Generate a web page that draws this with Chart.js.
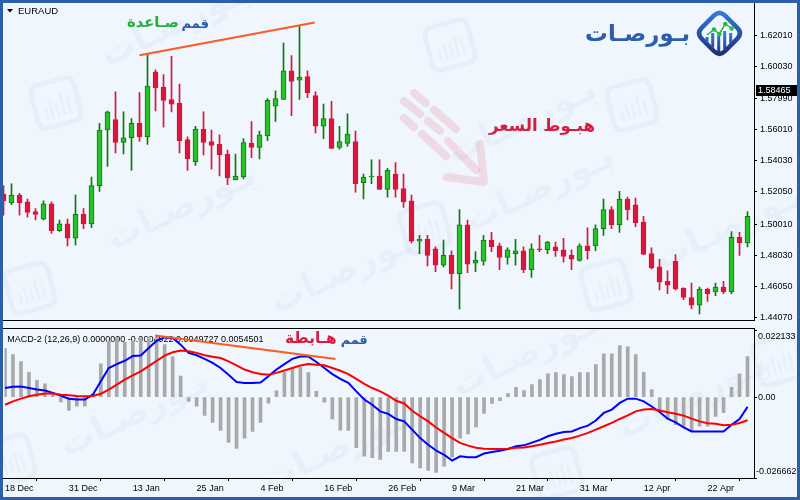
<!DOCTYPE html>
<html><head><meta charset="utf-8">
<script src="https://cdn.jsdelivr.net/npm/chart.js@4.4.1/dist/chart.umd.min.js"></script>
<style>
html,body{margin:0;padding:0;background:#2b5fab;width:800px;height:500px;overflow:hidden;}
#wrap{position:relative;width:800px;height:500px;}
#c1{position:absolute;left:3px;top:3px;}
#c2{position:absolute;left:3px;top:328px;}
</style></head><body><div id="wrap">
<canvas id="c1" width="794" height="325"></canvas>
<canvas id="c2" width="794" height="169"></canvas>
</div>
<script>
// ---------------- DATA ----------------
const symbol = 'EURAUD';
const dateLabels = ['18 Dec','31 Dec','13 Jan','25 Jan','4 Feb','16 Feb','26 Feb','9 Mar','21 Mar','31 Mar','12 Apr','22 Apr'];
const opens = [1.5191,1.5136,1.5185,1.5142,1.5081,1.5033,1.5130,1.4960,1.5002,1.4911,
1.5063,1.5002,1.5245,1.5598,1.5664,1.5519,1.5549,1.5640,1.5555,1.5968,
1.5871,1.5792,1.5768,1.5537,1.5397,1.5604,1.5525,1.5507,1.5446,1.5282,
1.5300,1.5513,1.5488,1.5561,1.5750,1.5792,1.5974,1.5914,1.5938,1.5816,
1.5622,1.5671,1.5488,1.5513,1.5525,1.5264,1.5300,1.5306,1.5221,1.5318,
1.5227,1.5148,1.4893,1.4905,1.4844,1.4741,1.4802,1.4686,1.4996,1.4753,
1.4765,1.4899,1.4863,1.4790,1.4814,1.4832,1.4711,1.4844,1.4838,1.4856,
1.4838,1.4802,1.4771,1.4863,1.4863,1.4972,1.5093,1.4996,1.5160,1.5124,
1.5014,1.4814,1.4729,1.4638,1.4765,1.4595,1.4535,1.4486,1.4589,1.4571,
1.4601,1.4571,1.4917,1.4881];
const highs = [1.5245,1.5257,1.5197,1.5160,1.5099,1.5148,1.5142,1.5027,1.5033,1.5185,
1.5099,1.5300,1.5640,1.5719,1.5841,1.5713,1.5671,1.5835,1.6078,1.5980,
1.5950,1.6065,1.5889,1.5555,1.5622,1.5713,1.5598,1.5567,1.5470,1.5446,
1.5543,1.5652,1.5592,1.5798,1.5847,1.6150,1.6071,1.6260,1.5974,1.5841,
1.5762,1.5780,1.5622,1.5701,1.5592,1.5318,1.5409,1.5409,1.5355,1.5391,
1.5318,1.5185,1.4929,1.4929,1.4856,1.4899,1.4832,1.5093,1.5027,1.4826,
1.4929,1.4948,1.4881,1.4850,1.4905,1.4856,1.4875,1.4929,1.4891,1.4887,
1.4911,1.4838,1.4875,1.4978,1.4996,1.5160,1.5112,1.5209,1.5172,1.5166,
1.5051,1.4850,1.4778,1.4705,1.4808,1.4597,1.4626,1.4601,1.4595,1.4626,
1.4638,1.4954,1.4948,1.5081];
const lows = [1.5057,1.5124,1.5057,1.5045,1.5027,1.5027,1.4942,1.4954,1.4863,1.4869,
1.4972,1.4978,1.5209,1.5367,1.5452,1.5446,1.5342,1.5525,1.5507,1.5719,
1.5616,1.5713,1.5452,1.5342,1.5373,1.5440,1.5349,1.5306,1.5251,1.5282,
1.5288,1.5422,1.5415,1.5531,1.5652,1.5792,1.5689,1.5792,1.5804,1.5579,
1.5543,1.5482,1.5476,1.5494,1.5203,1.5160,1.5257,1.5221,1.5172,1.5172,
1.5106,1.4881,1.4814,1.4735,1.4699,1.4729,1.4589,1.4462,1.4692,1.4699,
1.4741,1.4826,1.4711,1.4747,1.4741,1.4692,1.4662,1.4826,1.4814,1.4796,
1.4759,1.4711,1.4765,1.4778,1.4832,1.4929,1.4972,1.4948,1.5027,1.4984,
1.4808,1.4717,1.4583,1.4559,1.4583,1.4522,1.4462,1.4431,1.4510,1.4547,
1.4559,1.4559,1.4802,1.4856];
const closes = [1.5148,1.5185,1.5136,1.5075,1.5063,1.5130,1.4960,1.5002,1.4911,1.5063,
1.5002,1.5245,1.5598,1.5713,1.5519,1.5549,1.5640,1.5555,1.5877,1.5865,
1.5786,1.5762,1.5531,1.5415,1.5604,1.5519,1.5500,1.5440,1.5294,1.5306,
1.5519,1.5488,1.5567,1.5786,1.5798,1.5974,1.5907,1.5932,1.5835,1.5622,
1.5671,1.5482,1.5525,1.5573,1.5257,1.5300,1.5306,1.5221,1.5342,1.5221,
1.5142,1.4893,1.4905,1.4802,1.4741,1.4802,1.4686,1.4996,1.4747,1.4771,
1.4899,1.4856,1.4790,1.4838,1.4832,1.4711,1.4844,1.4838,1.4887,1.4832,
1.4796,1.4778,1.4863,1.4832,1.4972,1.5093,1.4996,1.5160,1.5093,1.5008,
1.4808,1.4723,1.4632,1.4613,1.4589,1.4535,1.4486,1.4589,1.4559,1.4601,
1.4571,1.4917,1.4881,1.5051];
const macdHist = [0.0160,0.0140,0.0117,0.0082,0.0055,0.0044,0.0014,-0.0016,-0.0044,-0.0030,
-0.0030,0.0012,0.0110,0.0184,0.0197,0.0181,0.0186,0.0195,0.0199,0.0197,
0.0173,0.0134,0.0069,-0.0014,-0.0030,-0.0060,-0.0083,-0.0110,-0.0149,-0.0169,
-0.0135,-0.0113,-0.0083,-0.0020,0.0021,0.0082,0.0096,0.0098,0.0081,0.0019,
-0.0017,-0.0072,-0.0109,-0.0110,-0.0167,-0.0195,-0.0200,-0.0205,-0.0179,-0.0179,
-0.0179,-0.0217,-0.0233,-0.0242,-0.0248,-0.0228,-0.0198,-0.0135,-0.0121,-0.0098,
-0.0054,-0.0021,-0.0012,0.0012,0.0032,0.0022,0.0041,0.0058,0.0077,0.0081,
0.0074,0.0068,0.0081,0.0081,0.0107,0.0143,0.0143,0.0170,0.0166,0.0140,
0.0082,0.0025,-0.0045,-0.0073,-0.0091,-0.0098,-0.0113,-0.0096,-0.0096,-0.0064,
-0.0051,0.0032,0.0077,0.0134];
const macdLine = [0.0030,0.0034,0.0035,0.0030,0.0025,0.0022,0.0014,0.0004,-0.0005,-0.0008,
-0.0008,0.0008,0.0052,0.0096,0.0109,0.0120,0.0136,0.0137,0.0162,0.0186,
0.0197,0.0195,0.0173,0.0146,0.0138,0.0126,0.0113,0.0096,0.0074,0.0050,
0.0047,0.0047,0.0048,0.0069,0.0091,0.0109,0.0126,0.0134,0.0134,0.0116,
0.0096,0.0076,0.0060,0.0047,0.0019,-0.0008,-0.0025,-0.0047,-0.0055,-0.0072,
-0.0080,-0.0107,-0.0135,-0.0157,-0.0176,-0.0190,-0.0209,-0.0195,-0.0198,-0.0198,
-0.0186,-0.0181,-0.0177,-0.0171,-0.0162,-0.0159,-0.0150,-0.0141,-0.0129,-0.0121,
-0.0115,-0.0113,-0.0102,-0.0094,-0.0077,-0.0052,-0.0041,-0.0019,-0.0005,-0.0005,
-0.0014,-0.0031,-0.0049,-0.0071,-0.0083,-0.0100,-0.0113,-0.0113,-0.0113,-0.0113,
-0.0113,-0.0091,-0.0072,-0.0032];
const signalLine = [-0.0025,-0.0014,-0.0005,0.0003,0.0008,0.0012,0.0012,0.0008,0.0006,0.0004,
0.0003,0.0004,0.0011,0.0025,0.0041,0.0058,0.0072,0.0085,0.0102,0.0120,
0.0137,0.0148,0.0154,0.0151,0.0146,0.0138,0.0133,0.0129,0.0118,0.0105,
0.0091,0.0082,0.0076,0.0074,0.0080,0.0088,0.0096,0.0104,0.0109,0.0107,
0.0105,0.0096,0.0087,0.0076,0.0060,0.0044,0.0030,0.0019,0.0005,-0.0012,
-0.0021,-0.0045,-0.0063,-0.0080,-0.0100,-0.0118,-0.0135,-0.0151,-0.0160,-0.0167,
-0.0170,-0.0171,-0.0171,-0.0170,-0.0167,-0.0166,-0.0162,-0.0157,-0.0151,-0.0146,
-0.0140,-0.0135,-0.0127,-0.0118,-0.0107,-0.0096,-0.0085,-0.0072,-0.0060,-0.0047,
-0.0041,-0.0039,-0.0044,-0.0050,-0.0055,-0.0061,-0.0071,-0.0080,-0.0086,-0.0088,
-0.0093,-0.0091,-0.0085,-0.0076];
const priceTicks = [1.62010,1.60030,1.57990,1.56010,1.54030,1.52050,1.50010,1.48030,1.46050,1.44070];
const macdTicks = [0.022133,0,-0.026662];
const macdTickLabels = ['0.022133','0.00','-0.026662'];
const currentPrice = 1.58465;
const macdLegend = 'MACD-2 (12,26,9) 0.0000000 -0.0004922 0.0049727 0.0054501';
// trend lines (bar index, value)
const trendTopX = [17.0, 38.9], trendTopY = [1.6072, 1.6280];
const trendMacdX = [18.8, 41.4], trendMacdY = [0.0203, 0.0126];

// ---------------- STYLE ----------------
const BG = '#eff6fd';
const BULL_FILL = '#24c524', BULL_LINE = '#0a7a0a', BEAR = '#dc143c';
const ORANGE = '#ff5a1f';
const FONT = 'Liberation Sans';
Chart.defaults.font.family = FONT;

const idx = opens.map((_, i) => i);
const up = idx.map(i => closes[i] >= opens[i]);
const XMIN = -0.0625, XMAX = XMIN + 751 / 8;

function fitText(ctx, txt, xRight, yBase, w, color) {
  ctx.font = 'bold 20px "DejaVu Sans"';
  const m = ctx.measureText(txt).width;
  ctx.font = 'bold ' + (20 * w / m).toFixed(2) + 'px "DejaVu Sans"';
  ctx.fillStyle = color; ctx.textAlign = 'right'; ctx.textBaseline = 'alphabetic';
  ctx.fillText(txt, xRight, yBase);
}
function rrect(ctx, x, y, w, h, r) {
  ctx.beginPath();
  ctx.moveTo(x + r, y); ctx.lineTo(x + w - r, y); ctx.quadraticCurveTo(x + w, y, x + w, y + r);
  ctx.lineTo(x + w, y + h - r); ctx.quadraticCurveTo(x + w, y + h, x + w - r, y + h);
  ctx.lineTo(x + r, y + h); ctx.quadraticCurveTo(x, y + h, x, y + h - r);
  ctx.lineTo(x, y + r); ctx.quadraticCurveTo(x, y, x + r, y); ctx.closePath();
}
function watermarks(ctx, texts, icons) {
  ctx.save();
  for (const [x, y] of texts) {
    ctx.save(); ctx.translate(x, y); ctx.rotate(-25 * Math.PI / 180);
    ctx.font = 'bold 20px "DejaVu Sans"';
    const m = ctx.measureText('بـورصـات').width;
    ctx.font = 'bold ' + (20 * 160 / m).toFixed(1) + 'px "DejaVu Sans"';
    ctx.fillStyle = 'rgba(43,95,171,0.04)'; ctx.textAlign = 'center'; ctx.textBaseline = 'middle';
    ctx.fillText('بـورصـات', 0, 0);
    ctx.restore();
  }
  for (const [x, y] of icons) {
    ctx.save(); ctx.translate(x, y); ctx.rotate(-15 * Math.PI / 180);
    ctx.strokeStyle = 'rgba(43,95,171,0.045)'; ctx.lineWidth = 5;
    rrect(ctx, -22, -22, 44, 44, 9); ctx.stroke();
    ctx.fillStyle = 'rgba(43,95,171,0.035)';
    [[-12, 2], [-6, -4], [0, -1], [6, -8], [12, -4]].forEach(([bx, by]) => ctx.fillRect(bx - 1.5, by, 3, 14 - by));
    ctx.restore();
  }
  ctx.restore();
}
function pinkArrow(ctx) {
  ctx.save();
  ctx.strokeStyle = 'rgba(220,20,60,0.12)'; ctx.lineWidth = 8; ctx.lineCap = 'round'; ctx.lineJoin = 'round';
  const segs = [[404, 101, 420, 114], [428, 121, 440, 131], [414, 93, 426, 103], [434, 110, 456, 129],
                [404, 118, 414, 127], [422, 134, 446, 156], [448, 141, 476, 170]];
  for (const s of segs) { ctx.beginPath(); ctx.moveTo(s[0], s[1]); ctx.lineTo(s[2], s[3]); ctx.stroke(); }
  ctx.beginPath(); ctx.moveTo(447, 177); ctx.lineTo(484, 182); ctx.lineTo(480, 144); ctx.stroke();
  ctx.restore();
}
function logo(ctx) {
  fitText(ctx, 'بـورصـات', 690, 41, 105, '#2c5ea9');
  ctx.save(); ctx.translate(719.5, 33.3); ctx.rotate(Math.PI / 4);
  const g = ctx.createLinearGradient(-17, -17, 17, 17);
  g.addColorStop(0, '#3a7fd8'); g.addColorStop(1, '#1b2a74');
  ctx.strokeStyle = g; ctx.lineWidth = 4.5; rrect(ctx, -16.5, -16.5, 33, 33, 8); ctx.stroke();
  ctx.restore();
  const bars = [[707, 37], [712.7, 33], [718.7, 35.5], [724.7, 31], [730.7, 33]];
  const gb = ctx.createLinearGradient(0, 30, 0, 54);
  gb.addColorStop(0, '#3d86e0'); gb.addColorStop(1, '#1d2f80');
  ctx.fillStyle = gb;
  for (const [bx, by] of bars) {
    const bot = 57.3 - Math.abs(bx - 719.5) - 3;
    ctx.fillRect(bx - 1.5, by, 3, Math.max(0, bot - by));
  }
  const pts = [[707, 35], [714, 29.5], [719.3, 34], [725.3, 24], [731.7, 28.5]];
  ctx.strokeStyle = '#2ab84a'; ctx.lineWidth = 1.5; ctx.beginPath();
  pts.forEach(([x, y], i) => i ? ctx.lineTo(x, y) : ctx.moveTo(x, y)); ctx.stroke();
  ctx.fillStyle = '#22c040';
  for (const [x, y] of pts.slice(1)) { ctx.beginPath(); ctx.arc(x, y, 2.3, 0, Math.PI * 2); ctx.fill(); }
}

// ---------------- PLUGINS ----------------
const panel1 = {
  id: 'panel1',
  beforeDraw(chart) {
    const ctx = chart.ctx;
    ctx.save(); ctx.fillStyle = BG; ctx.fillRect(0, 0, chart.width, chart.height);
    ctx.translate(-3, -3);
    watermarks(ctx, [[182, 208], [345, 272], [523, 122], [730, 228], [176, 25], [540, 190]],
      [[56, 103], [450, 45], [632, 105], [30, 288], [425, 228], [606, 285]]);
    pinkArrow(ctx);
    ctx.restore();
  },
  afterDraw(chart) {
    const ctx = chart.ctx, a = chart.chartArea, y = chart.scales.y;
    ctx.save();
    ctx.fillStyle = '#000';
    ctx.fillRect(Math.round(a.right), 0, 1, Math.round(a.bottom) + 1);
    ctx.fillRect(0, Math.round(a.bottom), Math.round(a.right) + 1, 1);
    // current price box
    const py = Math.round(y.getPixelForValue(currentPrice));
    ctx.fillStyle = '#000'; ctx.fillRect(Math.round(a.right) + 2, py - 6, 41, 11);
    ctx.fillStyle = '#fff'; ctx.font = '9px "' + FONT + '"'; ctx.textAlign = 'left'; ctx.textBaseline = 'middle';
    ctx.fillText(currentPrice.toFixed(5), Math.round(a.right) + 4, py);
    ctx.translate(-3, -3);
    // symbol label
    ctx.fillStyle = '#000'; ctx.beginPath(); ctx.moveTo(7, 9); ctx.lineTo(13, 9); ctx.lineTo(10, 12.5); ctx.closePath(); ctx.fill();
    ctx.font = '9.5px "' + FONT + '"'; ctx.textAlign = 'left'; ctx.textBaseline = 'middle';
    ctx.fillText(symbol, 18, 11);
    // annotations
    fitText(ctx, 'قمم', 209, 27.5, 27.5, '#2d5aa8');
    fitText(ctx, 'صـاعدة', 179, 26.5, 52, '#21b23a');
    fitText(ctx, 'هبـوط السعر', 595, 131, 106, '#d81b40');
    logo(ctx);
    ctx.restore();
  }
};
const panel2 = {
  id: 'panel2',
  beforeDraw(chart) {
    const ctx = chart.ctx;
    ctx.save(); ctx.fillStyle = BG; ctx.fillRect(0, 0, chart.width, chart.height);
    ctx.translate(-3, -328);
    watermarks(ctx, [[135, 415], [337, 450], [527, 355], [693, 397]], [[557, 473], [10, 460], [778, 360]]);
    ctx.restore();
  },
  beforeDatasetsDraw(chart) {
    const ctx = chart.ctx;
    ctx.save(); ctx.translate(-3, -328);
    ctx.fillStyle = '#000'; ctx.font = '9px "' + FONT + '"'; ctx.textAlign = 'left'; ctx.textBaseline = 'middle';
    ctx.fillText(macdLegend, 7.3, 340);
    ctx.restore();
  },
  afterDraw(chart) {
    const ctx = chart.ctx, a = chart.chartArea, y = chart.scales.y;
    ctx.save();
    ctx.fillStyle = '#000';
    const r = Math.round(a.right), b = Math.round(a.bottom);
    ctx.fillRect(0, 0, r + 1, 1);
    ctx.fillRect(r, 0, 1, b + 1);
    ctx.fillRect(0, b, r + 1, 1);
    ctx.font = '9px "' + FONT + '"'; ctx.textAlign = 'left'; ctx.textBaseline = 'middle';
    ctx.fillText(macdTickLabels[0], r + 4, a.top + 7);
    ctx.fillText(macdTickLabels[1], r + 4, y.getPixelForValue(macdTicks[1]));
    ctx.fillText(macdTickLabels[2], r + 2, a.bottom - 6.5);
    ctx.translate(-3, -328);
    fitText(ctx, 'قمم', 367.7, 343.5, 27, '#2d5aa8');
    fitText(ctx, 'هـابطة', 336.7, 343, 51.7, '#e0173f');
    ctx.restore();
  }
};

// ---------------- CHARTS ----------------
new Chart(document.getElementById('c1'), {
  type: 'bar',
  data: { datasets: [
    { type: 'line', data: trendTopX.map((x, i) => ({ x, y: trendTopY[i] })), borderColor: ORANGE, borderWidth: 2, pointRadius: 0, order: 0 },
    { data: idx.map(i => ({ x: i, y: [opens[i], closes[i]] })),
      backgroundColor: idx.map(i => up[i] ? BULL_FILL : BEAR),
      borderColor: idx.map(i => up[i] ? BULL_LINE : BEAR),
      borderWidth: 1, borderSkipped: false, barThickness: 5, grouped: false, order: 1 },
    { data: idx.map(i => ({ x: i, y: [lows[i], highs[i]] })),
      backgroundColor: idx.map(i => up[i] ? BULL_LINE : BEAR),
      borderWidth: 0, barThickness: 1, grouped: false, order: 2 }
  ]},
  options: {
    responsive: false, animation: false, devicePixelRatio: 1,
    layout: { padding: { top: 1, bottom: 2, left: 0, right: 0 } },
    plugins: { legend: { display: false }, tooltip: { enabled: false } },
    scales: {
      x: { type: 'linear', min: XMIN, max: XMAX, offset: false, display: false },
      y: { position: 'right', min: 1.43948, max: 1.63509,
        afterFit(s) { s.width = 43; },
        afterBuildTicks(s) { s.ticks = priceTicks.map(v => ({ value: v })); },
        ticks: { callback: v => Number(v).toFixed(5), font: { family: FONT, size: 9 }, color: '#000', padding: 3 },
        grid: { drawOnChartArea: false, tickLength: 3, color: '#000' },
        border: { display: false } }
    }
  },
  plugins: [panel1]
});

new Chart(document.getElementById('c2'), {
  type: 'bar',
  data: { datasets: [
    { type: 'line', data: trendMacdX.map((x, i) => ({ x, y: trendMacdY[i] })), borderColor: ORANGE, borderWidth: 2, pointRadius: 0, order: 0 },
    { type: 'line', data: idx.map(i => ({ x: i, y: signalLine[i] })), borderColor: '#ff0000', borderWidth: 2, pointRadius: 0, order: 1 },
    { type: 'line', data: idx.map(i => ({ x: i, y: macdLine[i] })), borderColor: '#0000ff', borderWidth: 2, pointRadius: 0, order: 2 },
    { data: idx.map(i => ({ x: i, y: macdHist[i] })), backgroundColor: '#a9a9a9', borderWidth: 0, barThickness: 3, order: 3 }
  ]},
  options: {
    responsive: false, animation: false, devicePixelRatio: 1,
    layout: { padding: { top: 2, bottom: 0, left: 0, right: 0 } },
    plugins: { legend: { display: false }, tooltip: { enabled: false } },
    scales: {
      x: { type: 'linear', min: XMIN, max: XMAX, offset: false,
        afterFit(s) { s.height = 19; },
        afterBuildTicks(s) { s.ticks = dateLabels.map((_, j) => ({ value: j * 8 })); },
        ticks: { callback: v => dateLabels[Math.round(v / 8)], align: 'start', maxRotation: 0, minRotation: 0, autoSkip: false,
          font: { family: FONT, size: 9 }, color: '#000', padding: 2 },
        grid: { drawOnChartArea: false, tickLength: 3, color: '#000' },
        border: { display: false } },
      y: { position: 'right', min: macdTicks[2], max: macdTicks[0],
        afterFit(s) { s.width = 43; },
        afterBuildTicks(s) { s.ticks = macdTicks.map(v => ({ value: v })); },
        ticks: { display: false },
        grid: { drawOnChartArea: false, tickLength: 3, color: '#000' },
        border: { display: false } }
    }
  },
  plugins: [panel2]
});
</script>
</body></html>
